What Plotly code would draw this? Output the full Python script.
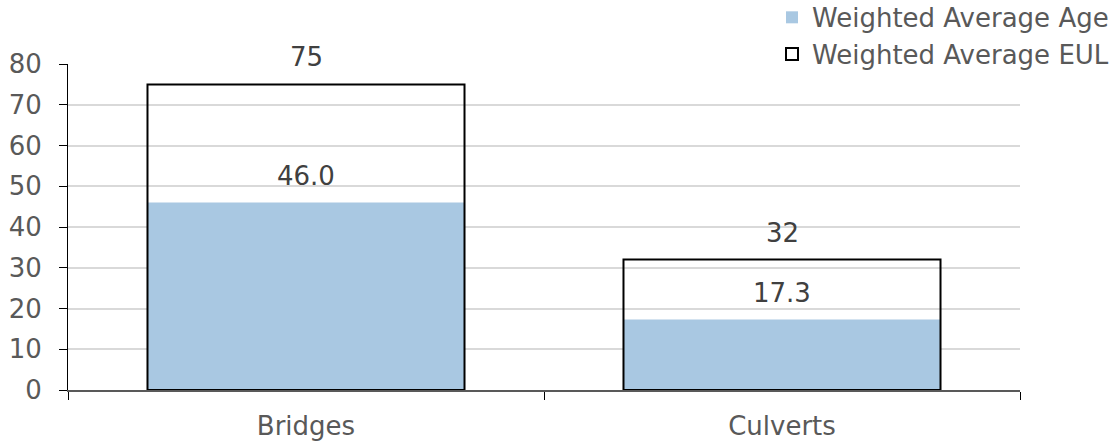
import plotly.graph_objects as go

categories = ["Bridges", "Culverts"]
avg_age = [46.0, 17.3]
avg_eul = [75, 32]
age_labels = ["46.0", "17.3"]
eul_labels = ["75", "32"]

FONT = "DejaVu Sans"
GREY = "#595959"
SIZE = 26

fig = go.Figure()

# Age bar drawn first, EUL outline drawn on top with a clear fill
fig.add_trace(go.Bar(
    x=categories, y=avg_age, name="Weighted Average Age",
    marker=dict(color="#a9c8e2", line=dict(width=0)),
))
fig.add_trace(go.Bar(
    x=categories, y=avg_eul, name="Weighted Average EUL",
    marker=dict(color="rgba(255,255,255,0)", line=dict(color="black", width=2)),
))

# value labels above each bar top
for cat, v, t in zip(categories, avg_eul, eul_labels):
    fig.add_annotation(x=cat, y=v, text=t, showarrow=False, yanchor="bottom",
                       yshift=10, font=dict(family=FONT, size=SIZE, color="#404040"))
for cat, v, t in zip(categories, avg_age, age_labels):
    fig.add_annotation(x=cat, y=v, text=t, showarrow=False, yanchor="bottom",
                       yshift=10, font=dict(family=FONT, size=SIZE, color="#404040"))

fig.update_layout(
    width=1114, height=442,
    margin=dict(l=68, r=94, t=64, b=52, autoexpand=False),
    paper_bgcolor="white", plot_bgcolor="white",
    barmode="overlay", bargap=0.334,
    font=dict(family=FONT, size=SIZE, color=GREY),
    legend=dict(
        x=1.003, xref="container", xanchor="right",
        y=1.215, yref="paper", yanchor="top",
        font=dict(family=FONT, size=SIZE, color=GREY),
        itemwidth=30, tracegroupgap=0,
        bgcolor="rgba(0,0,0,0)",
    ),
    showlegend=True,
)

fig.update_xaxes(
    type="category",
    showline=True, linecolor=GREY, linewidth=2,
    ticks="outside", tickson="boundaries", ticklen=8, tickcolor="black", tickwidth=1,
    showgrid=False, ticklabelstandoff=12,
    tickfont=dict(family=FONT, size=SIZE, color=GREY),
)
fig.update_yaxes(
    range=[0, 80], dtick=10, tick0=0,
    showline=True, linecolor="black", linewidth=1,
    ticks="outside", ticklen=8, tickcolor="black", tickwidth=1,
    showgrid=True, gridcolor="#d9d9d9", gridwidth=1.5,
    zeroline=False, ticklabelstandoff=12,
    tickfont=dict(family=FONT, size=SIZE, color=GREY),
)

fig.write_html("out.html")
